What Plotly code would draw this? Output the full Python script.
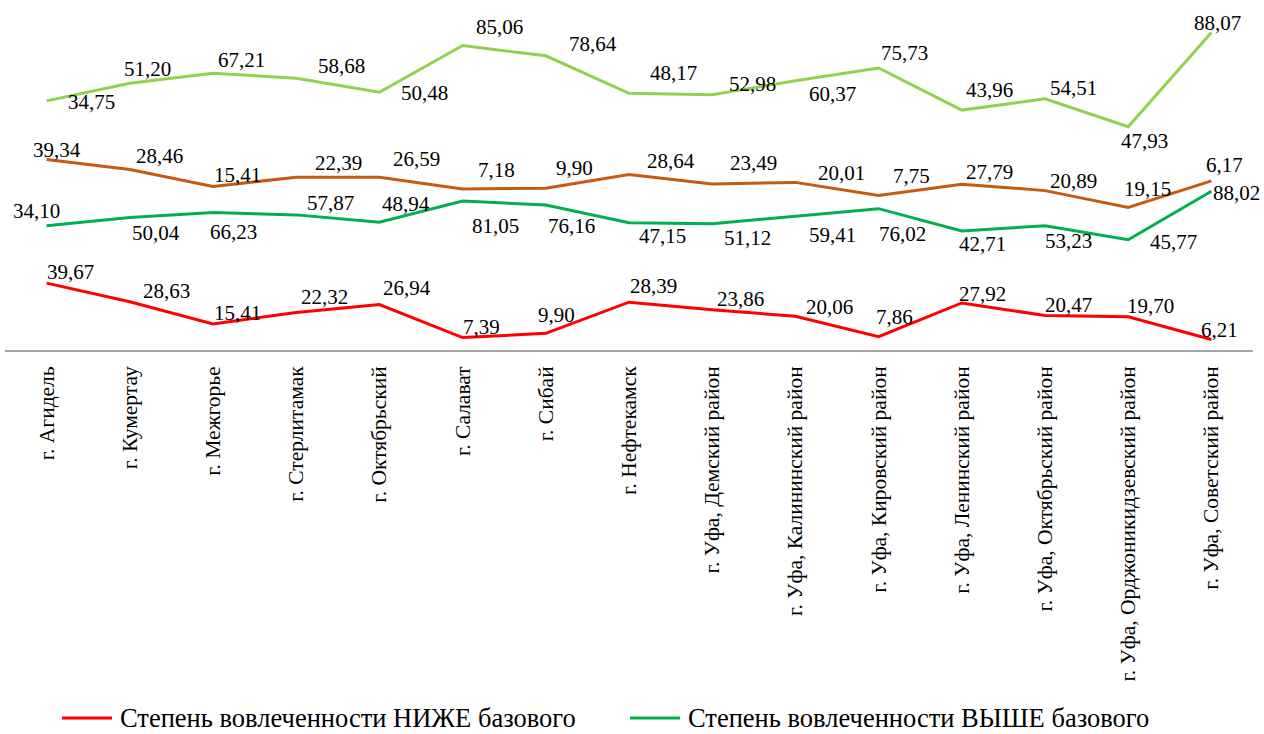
import numpy as np
import plotly.graph_objects as go

# Municipalities (category axis)
categories = [
    "г. Агидель", "г. Кумертау", "г. Межгорье", "г. Стерлитамак", "г. Октябрьский",
    "г. Салават", "г. Сибай", "г. Нефтекамск", "г. Уфа, Демский район",
    "г. Уфа, Калининский район", "г. Уфа, Кировский район", "г. Уфа, Ленинский район",
    "г. Уфа, Октябрьский район", "г. Уфа, Орджоникидзевский район", "г. Уфа, Советский район",
]

# Series values, stacked in this order (bottom to top)
below_a = [39.67, 28.63, 15.41, 22.32, 26.94, 7.39, 9.90, 28.39, 23.86, 20.06, 7.86, 27.92, 20.47, 19.70, 6.21]
above_a = [34.10, 50.04, 66.23, 57.87, 48.94, 81.05, 76.16, 47.15, 51.12, 59.41, 76.02, 42.71, 53.23, 45.77, 88.02]
below_b = [39.34, 28.46, 15.41, 22.39, 26.59, 7.18, 9.90, 28.64, 23.49, 20.01, 7.75, 27.79, 20.89, 19.15, 6.17]
above_b = [34.75, 51.20, 67.21, 58.68, 50.48, 85.06, 78.64, 48.17, 52.98, 60.37, 75.73, 43.96, 54.51, 47.93, 88.07]

# Label offsets from each point, in screen pixels (dx right, dy down)
off_below_a = [(24, -11), (37, -11), (24, -11), (28, -15), (28, -17), (19, -11), (11, -18), (24, -16),
               (28, -11), (34, -9), (16, -20), (21, -9), (23, -11), (22, -11), (8, -10)]
off_above_a = [(-10, -15), (26, 16), (20, 20), (34, -12), (27, -18), (33, 25), (26, 21), (33, 13),
               (35, 14), (37, 19), (24, 25), (21, 13), (23, 15), (45, 2), (25, 2)]
off_below_b = [(10, -9), (30, -13), (24, -11), (42, -14), (37, -18), (34, -19), (29, -20), (42, -13),
               (41, -21), (46, -9), (33, -20), (28, -12), (28, -10), (19, -18), (13, -16)]
off_above_b = [(45, 1), (18, -14), (28, -13), (45, -12), (45, 1), (37, -19), (47, -12), (44, -20),
               (40, -11), (37, 13), (26, -15), (28, -20), (28, -11), (16, 14), (6, -9)]

series = [
    ("Степень вовлеченности НИЖЕ базового", below_a, "#FF0000", off_below_a),
    ("Степень вовлеченности ВЫШЕ базового", above_a, "#00B050", off_above_a),
    ("Степень вовлеченности НИЖЕ базового ", below_b, "#C55A11", off_below_b),
    ("Степень вовлеченности ВЫШЕ базового ", above_b, "#92D050", off_above_b),
]

FONT = "Liberation Serif, DejaVu Serif, serif"

fig = go.Figure()
annotations = []
cum = np.zeros(len(categories))
for name, vals, color, offs in series:
    fig.add_trace(go.Scatter(
        x=categories, y=vals, name=name, mode="lines",
        stackgroup="s", fill="none",
        line=dict(color=color, width=3),
        showlegend=False,
    ))
    cum = cum + np.array(vals)
    for cat, v, top, (dx, dy) in zip(categories, vals, cum, offs):
        annotations.append(dict(
            x=cat, y=float(top), xref="x", yref="y",
            text=f"{v:.2f}".replace(".", ","),
            showarrow=False, xshift=dx, yshift=-dy,
            font=dict(family=FONT, size=21, color="black"),
        ))

# Plot-area geometry in pixels, used for the hand-placed legend row
W, H = 1264, 734
ML, MR, MT, MB = 5, 11, 13, 384
PW, PH = W - ML - MR, H - MT - MB


def px(xp):
    return (xp - ML) / PW


def py(yp):
    return (H - MB - yp) / PH


shapes = []
legend_y = 718
for (name, vals, color, offs), x0 in zip(series[:2], [62, 630]):
    shapes.append(dict(type="line", xref="paper", yref="paper",
                       x0=px(x0), x1=px(x0 + 50), y0=py(legend_y), y1=py(legend_y),
                       line=dict(color=color, width=3)))
    annotations.append(dict(xref="paper", yref="paper", x=px(x0 + 56), y=py(legend_y),
                            xanchor="left", yanchor="middle", showarrow=False,
                            text=name.strip(),
                            font=dict(family=FONT, size=26.5, color="black")))

fig.update_layout(
    width=W, height=H,
    margin=dict(l=ML, r=MR, t=MT, b=MB),
    paper_bgcolor="white", plot_bgcolor="white",
    showlegend=False,
    font=dict(family=FONT),
    annotations=annotations,
    shapes=shapes,
    xaxis=dict(
        type="category", range=[-0.5, len(categories) - 0.5],
        showline=True, linecolor="#A6A6A6", linewidth=1.5,
        showgrid=False, zeroline=False,
        ticks="outside", ticklen=6, tickcolor="rgba(0,0,0,0)",
        tickangle=-90,
        tickfont=dict(family=FONT, size=21.5, color="black"),
    ),
    yaxis=dict(range=[0, 200], visible=False, showgrid=False, zeroline=False),
)

fig.write_html("out.html")
